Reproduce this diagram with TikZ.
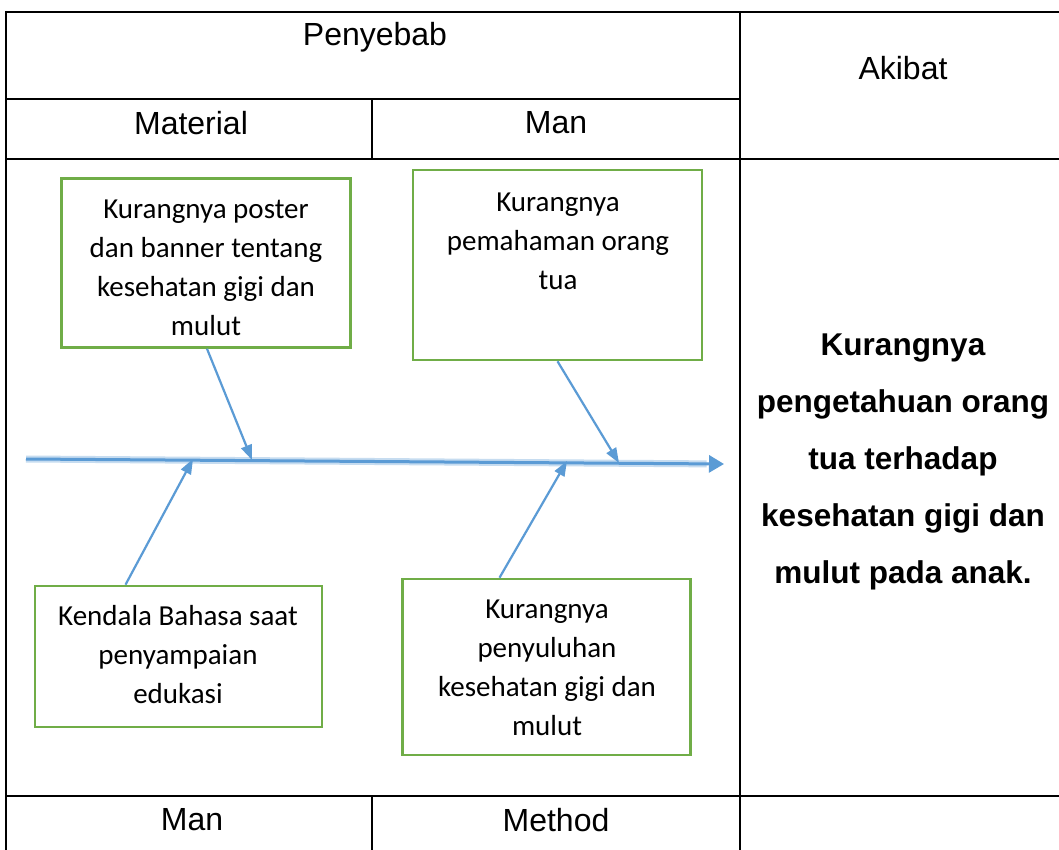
\documentclass[tikz,border=0pt]{standalone}
\usepackage{fontspec}
\setmainfont{Liberation Sans}
\newfontfamily\boxfont{Carlito}
\usetikzlibrary{arrows.meta,calc}
\definecolor{gbox}{RGB}{112,173,71}
\definecolor{bline}{RGB}{91,155,213}
\tikzset{
  x=1pt,y=-1pt,
  grid/.style={line width=2.2pt,black},
  thin grid/.style={line width=1.4pt,black},
  head/.style={font=\fontsize{32}{36}\selectfont,inner sep=0pt},
  causebox/.style={draw=gbox,line width=2.6pt,inner sep=0pt},
  causetext/.style={font=\boxfont\fontsize{29}{39}\selectfont,align=center,inner sep=0pt},
  branch/.style={bline,line width=2.2pt,-{Triangle[length=15pt,width=11pt]}},
  spine/.style={bline,line width=3pt,-{Triangle[length=15pt,width=17pt]}},
}
\begin{document}
\begin{tikzpicture}
\useasboundingbox (0,0) rectangle (1059,850);
\clip (0,0) rectangle (1059,850);
\fill[white] (0,0) rectangle (1059,850);
% table
\draw[grid] (6,12) -- (1070,12);
\draw[grid] (6,99) -- (740,99);
\draw[grid] (6,159) -- (1070,159);
\draw[grid] (6,796) -- (1070,796);
\draw[grid] (6,11) -- (6,860);
\draw[grid] (740,11) -- (740,860);
\draw[thin grid] (372,99) -- (372,159);
\draw[thin grid] (372,796) -- (372,860);
\node[head] (penyebab) at (375,37) {Penyebab};
\node[head] (akibat) at (903,68) {Akibat};
\node[head] (material) at (191,123) {Material};
\node[head] (man1) at (556,123) {Man};
\node[head] (man2) at (192,820) {Man};
\node[head] (method) at (556,820) {Method};
% effect
\node[font=\bfseries\fontsize{31.5}{57}\selectfont,align=center,inner sep=0pt] (effect) at (903,462)
  {Kurangnya\\pengetahuan orang\\tua terhadap\\kesehatan gigi dan\\mulut pada anak.};
% spine
\coordinate (s0) at (26,459);
\coordinate (s1) at (724,464);
\draw[bline!35,line width=7pt] (s0) -- ($(s0)!0.975!(s1)$);
\draw[spine] (s0) -- (s1);
% cause boxes
\node[causebox,minimum width=289pt,minimum height=169pt] (b1) at (206,263) {};
\node[causebox,minimum width=289pt,minimum height=190pt] (b2) at (557.5,265) {};
\node[causebox,minimum width=287pt,minimum height=141pt] (b3) at (178.5,656.5) {};
\node[causebox,minimum width=288pt,minimum height=176pt] (b4) at (546.5,667) {};
\node[causetext] (t1) at (206,268) {Kurangnya poster\\dan banner tentang\\kesehatan gigi dan\\mulut};
\node[causetext] (t2) at (558,241) {Kurangnya\\pemahaman orang\\tua};
\node[causetext] (t3) at (178,655) {Kendala Bahasa saat\\penyampaian\\edukasi};
\node[causetext] (t4) at (547,668) {Kurangnya\\penyuluhan\\kesehatan gigi dan\\mulut};
% branch tips on spine
\coordinate (p1) at (252,460);
\coordinate (p2) at (619,463);
\coordinate (p3) at (193,459);
\coordinate (p4) at (567,461);
\draw[branch] ([xshift=1pt]b1.south) -- (p1);
\draw[branch] (b2.south) -- (p2);
\draw[branch] ([xshift=-53pt]b3.north) -- (p3);
\draw[branch] ([xshift=-47pt]b4.north) -- (p4);
\end{tikzpicture}
\end{document}
